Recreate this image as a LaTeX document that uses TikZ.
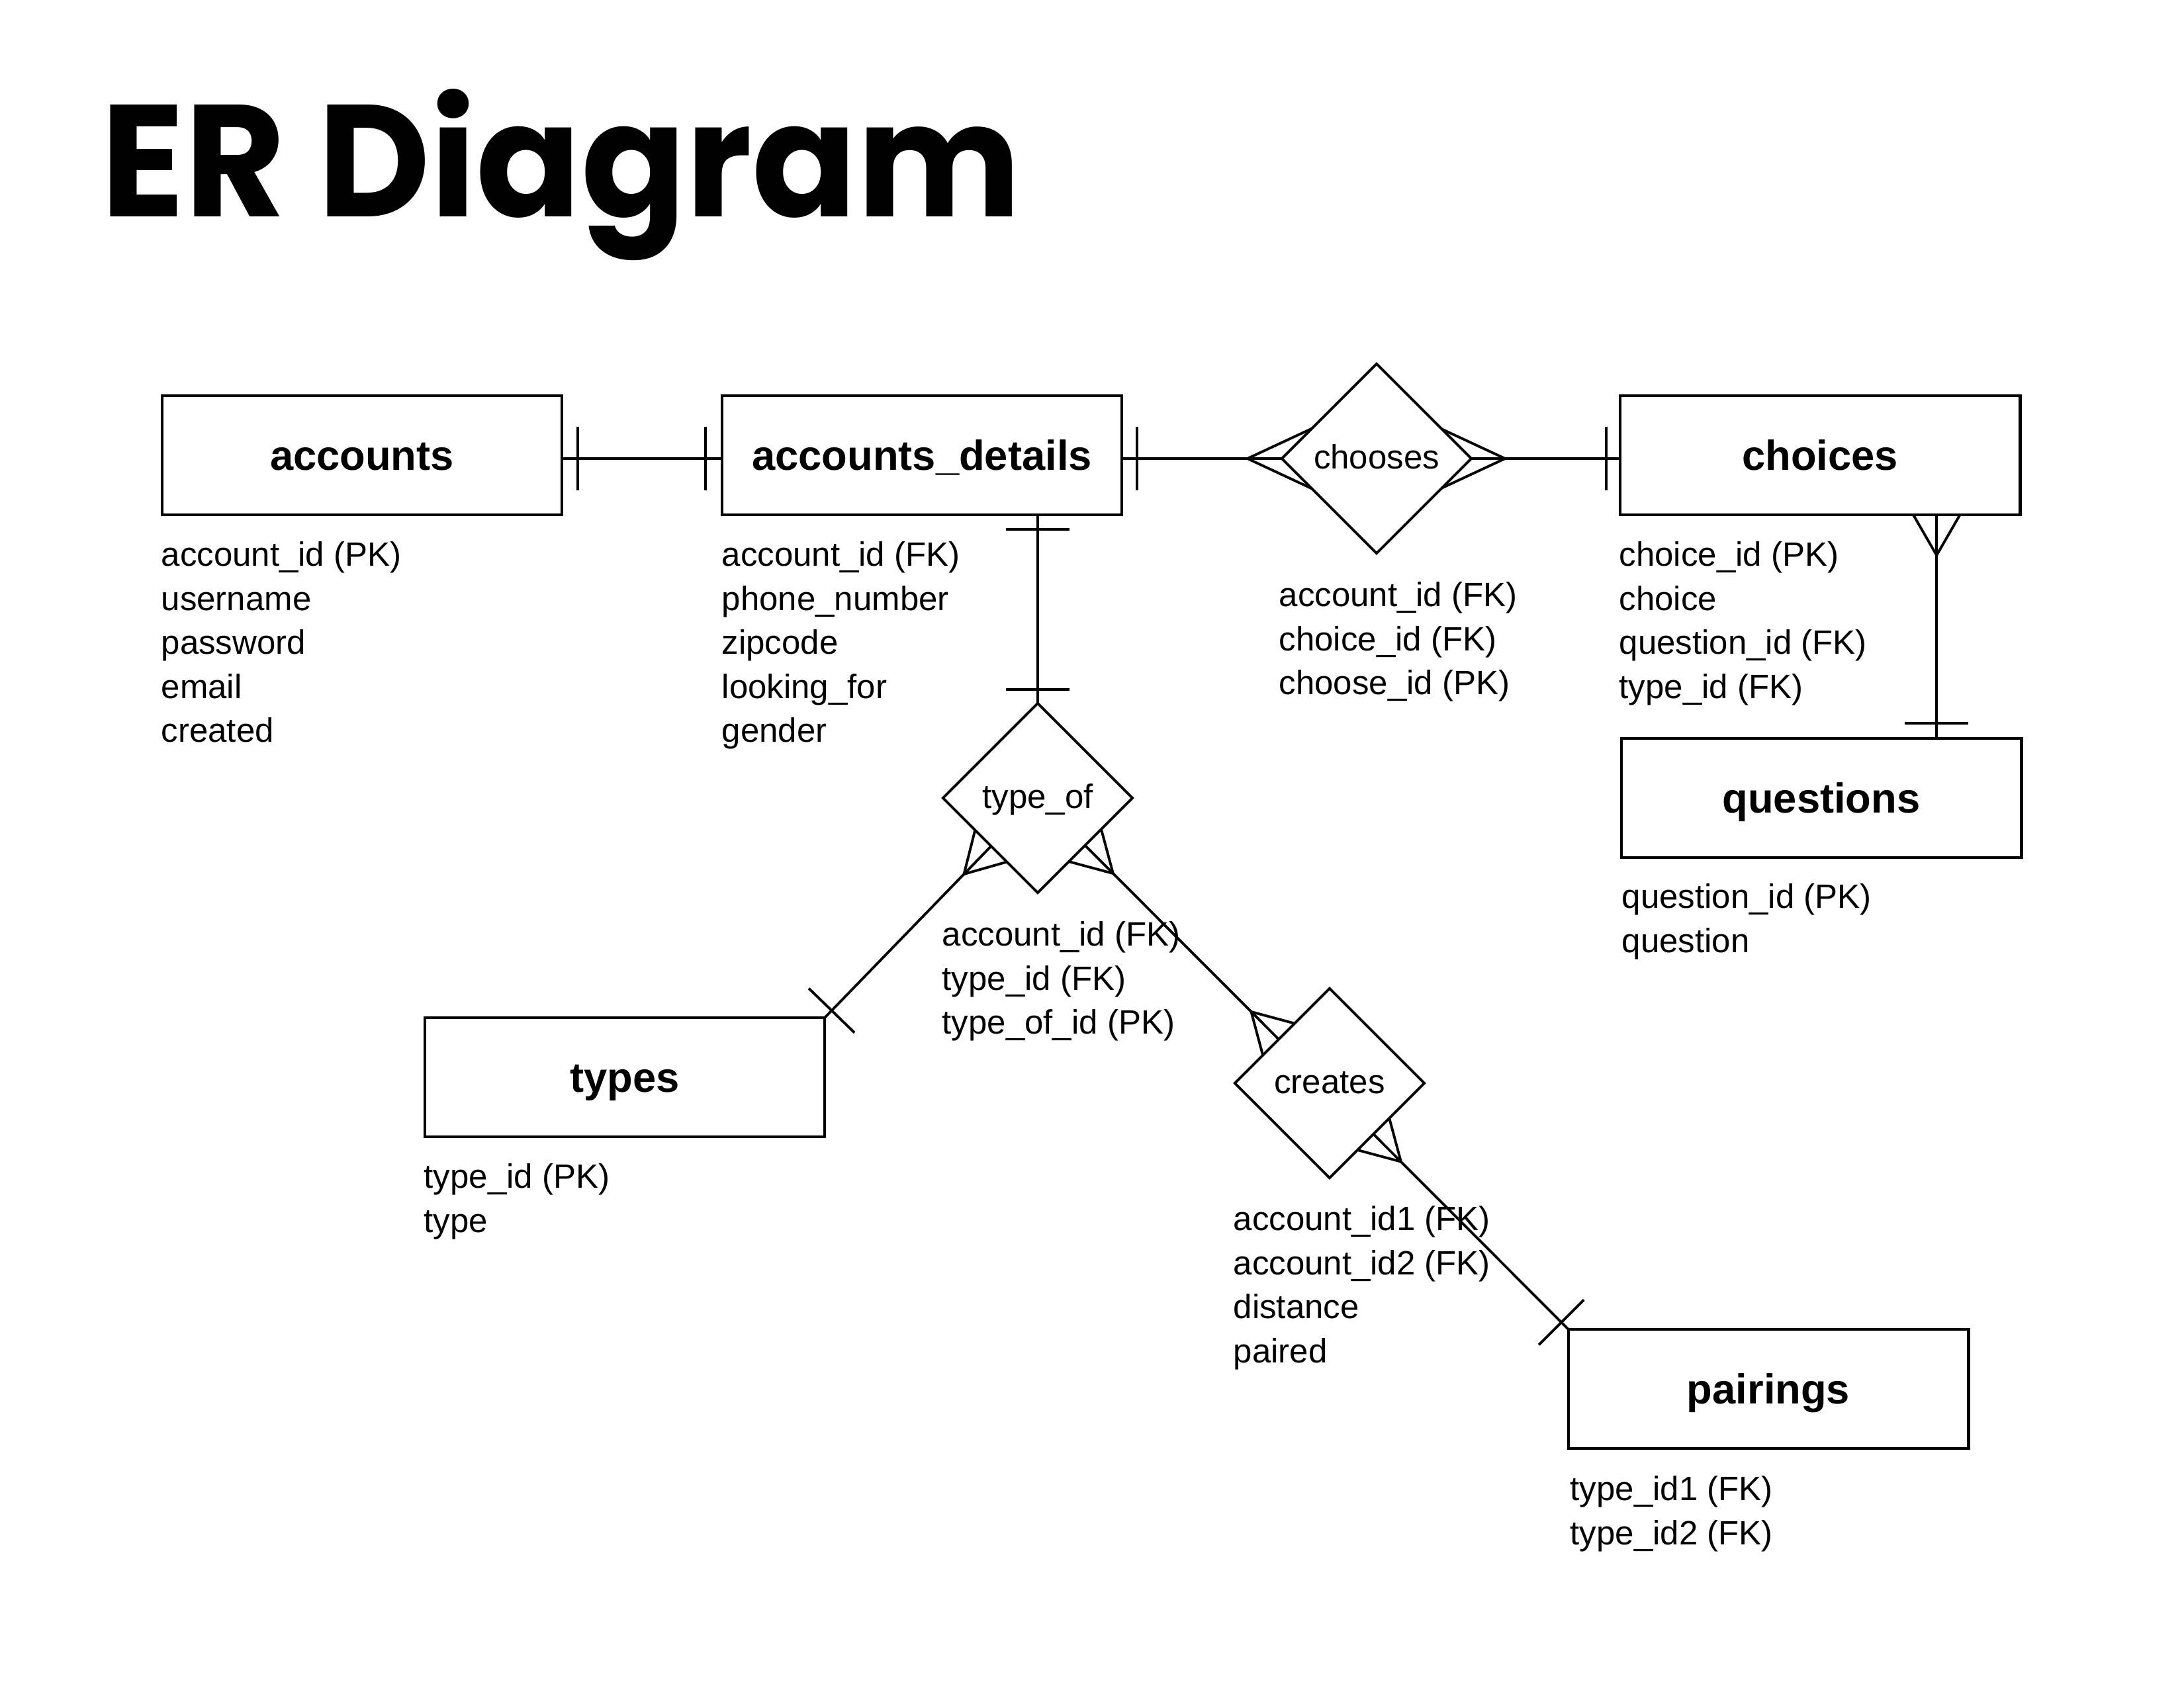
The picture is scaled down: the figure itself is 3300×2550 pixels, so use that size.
\documentclass[tikz,border=0pt]{standalone}
\usepackage{fontspec}
\setmainfont{Liberation Sans}
\newfontfamily\titlefont{Poppins}[FakeStretch=0.97]
\usetikzlibrary{shapes.geometric,calc,backgrounds}

\tikzset{
  entity/.style={draw, line width=1.3pt, fill=white, minimum width=6.04cm, minimum height=1.80cm,
    inner sep=0pt, outer sep=0pt, font=\fontsize{18}{22}\selectfont\bfseries, text height=13pt, text depth=0pt},
  rel/.style={draw, diamond, aspect=1, line width=1.1pt, fill=white, minimum width=2.86cm, minimum height=2.86cm,
    inner sep=0pt, outer sep=0pt, font=\fontsize{14.5}{18}\selectfont, text height=8.6pt, text depth=0pt},
  conn/.style={line width=1.1pt},
  attr/.style={font=\fontsize{14.5}{18.9}\selectfont, align=left, inner sep=0pt, anchor=north west},
}
\newcommand\erTick[3]{%
  \coordinate (tk) at ($(#1)!#3!(#2)$);
  \draw[conn] ($(tk)!0.48cm!90:(#2)$) -- ($(tk)!0.48cm!-90:(#2)$);}
\newcommand\erCrow[5]{%
  \coordinate (cf) at ($(#1)!#3!(#2)$);
  \draw[conn] ($(cf)!#5!#4:(#1)$) -- (cf) -- ($(cf)!#5!-#4:(#1)$);}
\newcommand\fstrut{\rule{0pt}{14pt}}

\begin{document}
\begin{tikzpicture}[x=0.01cm, y=-0.01cm]
\useasboundingbox (0,0) rectangle (3300,2550);

\node[anchor=base west, inner sep=0pt, font=\titlefont\bfseries\fontsize{68.5}{80}\selectfont] (title) at (152,327) {ER Diagram};

% entities
\node[entity] (accounts) at (547,688) {accounts};
\node[entity] (accounts_details) at (1393,688) {accounts\_details};
\node[entity] (choices) at (2750,688) {choices};
\node[entity] (questions) at (2752,1206) {questions};
\node[entity] (types) at (944,1628) {types};
\node[entity] (pairings) at (2672,2099) {pairings};

% relationships
\node[rel] (chooses) at (2080,693) {chooses};
\node[rel] (type_of) at (1568,1206) {type\_of};
\node[rel] (creates) at (2009,1637) {creates};

% attributes
\node[attr] (accountsAttr) at (243,806) {\fstrut account\_id (PK)\\username\\password\\email\\created};
\node[attr] (detailsAttr) at (1090,806) {\fstrut account\_id (FK)\\phone\_number\\zipcode\\looking\_for\\gender};
\node[attr] (choosesAttr) at (1932,867) {\fstrut account\_id (FK)\\choice\_id (FK)\\choose\_id (PK)};
\node[attr] (choicesAttr) at (2446,806) {\fstrut choice\_id (PK)\\choice\\question\_id (FK)\\type\_id (FK)};
\node[attr] (questionsAttr) at (2450,1323) {\fstrut question\_id (PK)\\question};
\node[attr] (typeofAttr) at (1423,1380) {\fstrut account\_id (FK)\\type\_id (FK)\\type\_of\_id (PK)};
\node[attr] (typesAttr) at (640,1746) {\fstrut type\_id (PK)\\type};
\node[attr] (createsAttr) at (1863,1810) {\fstrut account\_id1 (FK)\\account\_id2 (FK)\\distance\\paired};
\node[attr] (pairingsAttr) at (2372,2218) {\fstrut type\_id1 (FK)\\type\_id2 (FK)};

\begin{pgfonlayer}{background}
  % accounts -- accounts_details
  \coordinate (acE) at (accounts.east |- chooses.center);
  \coordinate (adW) at (accounts_details.west |- chooses.center);
  \draw[conn] (acE) -- (adW);
  \erTick{acE}{adW}{0.24cm}
  \erTick{adW}{acE}{0.25cm}

  % accounts_details -- chooses -- choices
  \coordinate (adE) at (accounts_details.east |- chooses.center);
  \coordinate (chW) at (choices.west |- chooses.center);
  \draw[conn] (adE) -- (chW);
  \erTick{adE}{chW}{0.23cm}
  \erTick{chW}{adE}{0.21cm}
  \erCrow{chooses.center}{adE}{1.95cm}{25}{1.25cm}
  \erCrow{chooses.center}{chW}{1.94cm}{25}{1.25cm}

  % choices -- questions
  \coordinate (cqT) at ($(choices.south east)+(-126,0)$);
  \coordinate (cqB) at (cqT |- questions.north);
  \draw[conn] (cqT) -- (cqB);
  \erCrow{cqT}{cqB}{0.61cm}{30}{1.0cm}
  \erTick{cqB}{cqT}{0.23cm}

  % accounts_details -- type_of
  \coordinate (adB) at (type_of.center |- accounts_details.south);
  \draw[conn] (adB) -- (type_of.north);
  \erTick{adB}{type_of.north}{0.22cm}
  \erTick{type_of.north}{adB}{0.21cm}

  % type_of -- types
  \draw[conn] (type_of.center) -- (types.north east);
  \erCrow{type_of.center}{types.north east}{1.6cm}{30}{1.2cm}
  \erTick{types.north east}{type_of.center}{0.15cm}

  % type_of -- creates -- pairings
  \draw[conn] (type_of.center) -- (pairings.north west);
  \coordinate (crp) at ($(type_of.center)!(creates.center)!(pairings.north west)$);
  \erCrow{type_of.center}{pairings.north west}{1.61cm}{30}{1.2cm}
  \erCrow{crp}{type_of.center}{1.6cm}{30}{1.2cm}
  \erCrow{crp}{pairings.north west}{1.6cm}{30}{1.2cm}
  \erTick{pairings.north west}{type_of.center}{0.15cm}
\end{pgfonlayer}
\end{tikzpicture}
\end{document}
